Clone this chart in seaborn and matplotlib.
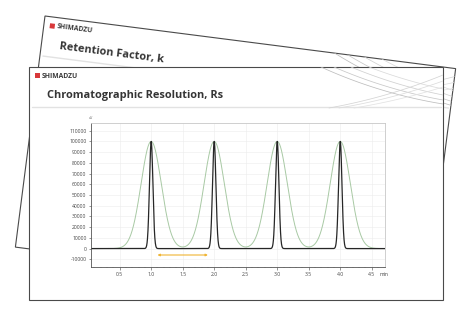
import numpy as np
import matplotlib
matplotlib.use("Agg")
import matplotlib.pyplot as plt
import seaborn as sns
from matplotlib.transforms import Affine2D
from matplotlib.patches import Polygon, Rectangle
from matplotlib.lines import Line2D
from matplotlib.ticker import MultipleLocator

# ---- data ----
peak_times = [1.0, 2.0, 3.0, 4.0]          # min
peak_heights = [100000, 100000, 100000, 100000]  # uV
narrow_sigma = [0.027, 0.027, 0.027, 0.027]
wide_sigma = [0.16, 0.16, 0.16, 0.16]
arrow_start, arrow_end, arrow_y = 1.1, 1.9, -6000
x_ticks = [0.5, 1.0, 1.5, 2.0, 2.5, 3.0, 3.5, 4.0, 4.5]
x_tick_labels = ["0.5", "1.0", "1.5", "2.0", "2.5", "3.0", "3.5", "4.0", "4.5"]
y_ticks = list(range(-10000, 110001, 10000))
y_tick_labels = [str(v) for v in y_ticks]
front_title = "Chromatographic Resolution, Rs"
back_title = "Retention Factor, k"
brand = "SHIMADZU"

W, H, DPI = 467, 312, 100
sns.set_theme(style="white")
plt.rcParams['font.family'] = ['Open Sans', 'DejaVu Sans']

fig = plt.figure(figsize=(W / DPI, H / DPI), dpi=DPI)
fig.patch.set_facecolor("white")

SW, SH = 414, 233  # slide size in px


def slide_tf(ox, oy, ang):
    return (Affine2D().rotate_deg(ang).translate(ox, oy).scale(1, -1)
            .translate(0, H).scale(1.0 / DPI) + fig.dpi_scale_trans)


def arc_points(p0, p1, cx):
    (x0, y0), (x1, y1) = p0, p1
    d = (x0 - cx) ** 2 - (x1 - cx) ** 2
    s = d / (y1 - y0)
    a = (s + (y1 - y0)) / 2.0
    r2 = a ** 2 + (x1 - cx) ** 2
    cy = y1 - a
    xs = np.linspace(min(x0, x1), max(x0, x1), 120)
    ys = cy + np.sqrt(np.maximum(r2 - (xs - cx) ** 2, 0))
    return xs, ys


def draw_slide(ox, oy, ang, title, z, tsize):
    tf = slide_tf(ox, oy, ang)
    rect = Polygon([[0, 0], [SW, 0], [SW, SH], [0, SH]], closed=True,
                   facecolor="white", edgecolor="#4a4a4a", lw=0.8,
                   transform=tf, zorder=z)
    fig.add_artist(rect)
    # logo
    fig.add_artist(Rectangle((6, 6.5), 5, 5, facecolor="#d8383a", edgecolor="none",
                             transform=tf, zorder=z + 0.2))
    fig.text(13, 9.2, brand, transform=tf, fontsize=4.9, fontweight="bold",
             color="#3a3a3a", va="center", ha="left", rotation=-ang,
             rotation_mode="anchor", zorder=z + 0.2)
    fig.text(18, 28.5, title, transform=tf, fontsize=tsize, fontweight="bold",
             color="#353535", va="center", ha="left", rotation=-ang,
             rotation_mode="anchor", zorder=z + 0.2)
    # separator
    l = Line2D([3, SW - 2], [40, 40], color="#e2e2e2", lw=1.0, transform=tf,
               zorder=z + 0.1)
    fig.add_artist(l)
    # decorative arcs in top-right
    desc = [((292, 0), (SW, 37), 490, "#bdbdbd"),
            ((305, 0), (SW, 33), 500, "#c8c8c8"),
            ((322, 0), (SW, 28), 510, "#d0d0d0"),
            ((340, 0), (SW, 22), 520, "#dadada")]
    asc = [((300, 41), (SW, 8), 200, "#d4d4d4"),
           ((310, 41), (SW, 14), 210, "#dcdcdc"),
           ((325, 41), (SW, 20), 220, "#e2e2e2")]
    for p0, p1, cx, col in desc + asc:
        xs, ys = arc_points(p0, p1, cx)
        ln = Line2D(xs, ys, color=col, lw=0.55, transform=tf, zorder=z + 0.1)
        ln.set_clip_path(rect)
        fig.add_artist(ln)
    return tf


draw_slide(45, 16, 7.3, back_title, 1, 7.9)
draw_slide(29, 67, 0.0, front_title, 3, 7.9)

# ---- chart ----
ax = fig.add_axes([91 / W, (H - 267) / H, 294 / W, 144 / H], zorder=5)
ax.set_facecolor("white")
x = np.linspace(0.0, 4.8, 3000)
wide = np.zeros_like(x)
narrow = np.zeros_like(x)
for t, h, sw, sn in zip(peak_times, peak_heights, wide_sigma, narrow_sigma):
    wide += h * np.exp(-0.5 * ((x - t) / sw) ** 2)
    narrow += h * np.exp(-0.5 * ((x - t) / sn) ** 2)
sns.lineplot(x=x, y=wide, ax=ax, color="#a8c9a4", lw=0.7)
sns.lineplot(x=x, y=narrow, ax=ax, color="#262626", lw=0.9)
ax.annotate("", xy=(arrow_end, arrow_y), xytext=(arrow_start, arrow_y),
            arrowprops=dict(arrowstyle="<|-|>", color="#f0b433", lw=0.8,
                            mutation_scale=3, shrinkA=0, shrinkB=0))
ax.set_xlim(0.045, 4.71)
ax.set_ylim(-17200, 117200)
ax.set_xticks(x_ticks)
ax.set_xticklabels(x_tick_labels)
ax.set_yticks(y_ticks)
ax.set_yticklabels(y_tick_labels)
ax.xaxis.set_minor_locator(MultipleLocator(0.1))
ax.tick_params(axis="both", which="major", labelsize=3.6, colors="#444444",
               length=1.8, width=0.4, pad=1.5, left=True, bottom=True, direction="out")
ax.tick_params(axis="x", which="minor", length=1.0, width=0.3, bottom=True,
               colors="#666666")
ax.grid(True, color="#ececec", lw=0.4)
for s in ["left", "bottom"]:
    ax.spines[s].set_color("#555555")
    ax.spines[s].set_linewidth(0.6)
for s in ["top", "right"]:
    ax.spines[s].set_color("#c8c8c8")
    ax.spines[s].set_linewidth(0.6)
ax.set_xlabel("")
ax.set_ylabel("")
ax.text(4.62, -0.037, "min", transform=ax.get_xaxis_transform(), fontsize=3.6,
        color="#444444", ha="left", va="top")
ax.text(-0.0, 1.02, "uV", transform=ax.transAxes, fontsize=2.6, color="#666666",
        ha="center", va="bottom")

fig.savefig("out.png", dpi=DPI, facecolor="white")
